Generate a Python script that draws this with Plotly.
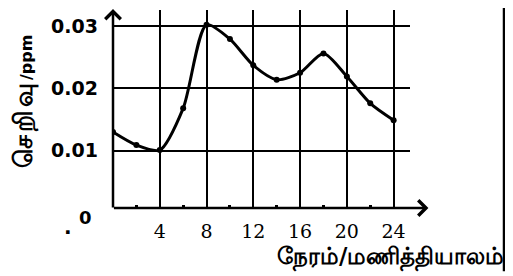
import plotly.graph_objects as go

hours = [0, 2, 4, 6, 8, 10, 12, 14, 16, 18, 20, 22, 24]
conc = [0.0130, 0.0109, 0.0101, 0.0168, 0.0302, 0.0279, 0.0237,
        0.0214, 0.0225, 0.0256, 0.0219, 0.0176, 0.0149]
x_ticks = [4, 8, 12, 16, 20, 24]
minor_ticks = [2, 6, 10, 14, 18, 22]
y_ticks = [0.01, 0.02, 0.03]
y_tick_text = ["0.01", "0.02", "0.03"]
x_title = "நேரம்/மணித்தியாலம்"
y_title_word = "செறிவு"
y_title_unit = "/ppm"

fig = go.Figure()
fig.add_trace(go.Scatter(
    x=hours, y=conc, mode="lines+markers",
    line=dict(color="black", width=3, shape="spline", smoothing=0.75),
    marker=dict(color="black", size=6),
    hoverinfo="skip", showlegend=False,
))

# page body adds an 8px offset; figure is sized so it fits the 513x276 window
fig.update_layout(
    width=505, height=268,
    margin=dict(l=105, r=103, t=2, b=68, autoexpand=False),
    paper_bgcolor="white", plot_bgcolor="white",
    xaxis=dict(
        range=[0, 25.4], tickvals=x_ticks, ticktext=[str(v) for v in x_ticks],
        showgrid=True, gridcolor="black", gridwidth=2, automargin=False,
        zeroline=False, showline=False,
        ticks="", ticklabelstandoff=10,
        tickfont=dict(family="DejaVu Serif", size=19, color="black"),
        minor=dict(tickvals=minor_ticks, ticks="inside",
                   ticklen=3, tickwidth=3, tickcolor="black", showgrid=False),
    ),
    yaxis=dict(
        range=[0.00081, 0.03257], tickvals=y_ticks, ticktext=y_tick_text,
        showgrid=True, gridcolor="black", gridwidth=2, automargin=False,
        zeroline=False, showline=False, ticks="", ticklabelstandoff=14,
        tickfont=dict(family="DejaVu Sans", size=19, color="black", weight="bold"),
    ),
    font=dict(family="DejaVu Sans", color="black"),
)

# axes with arrows
fig.add_annotation(xref="paper", yref="paper", x=1.062, y=0, ax=-316, ay=0,
                   showarrow=True, arrowhead=4, arrowwidth=2.5, arrowsize=1.2,
                   arrowcolor="black", text="")
fig.add_annotation(xref="paper", yref="paper", x=0, y=1.01, ax=0, ay=201,
                   showarrow=True, arrowhead=4, arrowwidth=2.5, arrowsize=1.2,
                   arrowcolor="black", text="")

# origin label
fig.add_annotation(xref="paper", yref="paper", x=-0.094, y=-0.05, text="0",
                   xanchor="center", yanchor="middle", showarrow=False,
                   font=dict(family="DejaVu Sans", size=18, color="black", weight="bold"))
fig.add_annotation(xref="paper", yref="paper", x=-0.152, y=-0.167, xanchor="center",
                   yanchor="bottom", text=".", showarrow=False,
                   font=dict(family="DejaVu Sans", size=20, color="black", weight="bold"))

# titles
fig.add_annotation(xref="paper", yref="paper", x=0.933, y=-0.2525, text=x_title,
                   xanchor="center", yanchor="middle", showarrow=False,
                   font=dict(size=23, color="black", weight="bold"))
fig.add_annotation(xref="paper", yref="paper", x=-0.30, y=0.54,
                   text='<span style="font-size:25px;letter-spacing:3px">' + y_title_word
                        + '</span>' + y_title_unit,
                   xanchor="center", yanchor="middle",
                   textangle=-90, showarrow=False,
                   font=dict(size=16, color="black", weight="bold"))

# right border line
fig.add_shape(type="line", xref="paper", yref="paper", x0=1.3165, x1=1.3165,
              y0=-0.32, y1=1.06, line=dict(color="black", width=2.5))

fig.write_html("out.html")
